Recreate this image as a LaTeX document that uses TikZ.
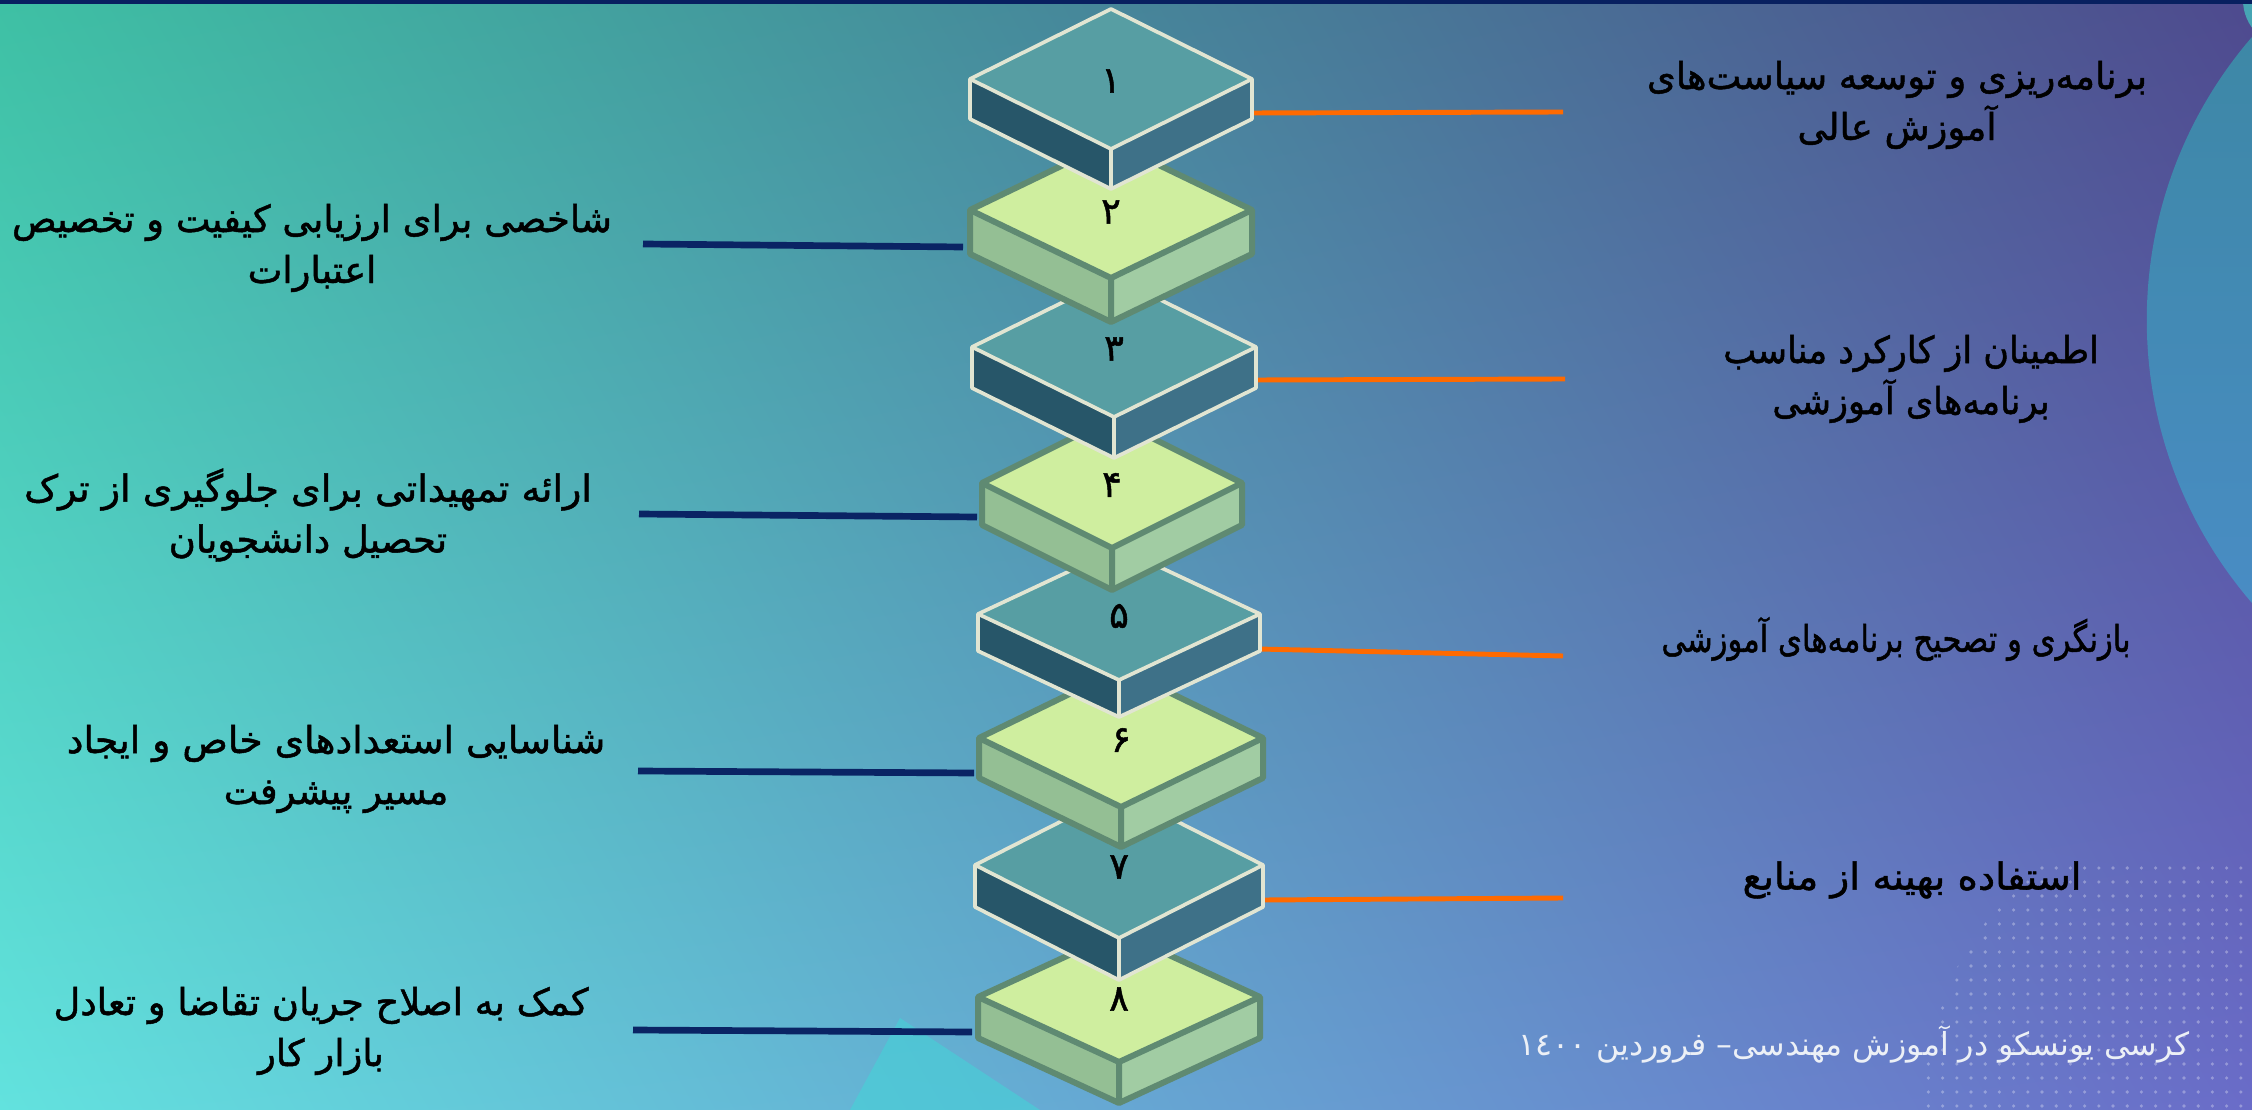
\documentclass[tikz,border=0pt]{standalone}
\usepackage{fontspec}
\usepackage{graphicx}
\usetikzlibrary{shadings}
\newfontfamily\arabicfont[Script=Arabic]{DejaVu Sans}
\newfontfamily\arabicheavy[Script=Arabic,FakeBold=1.3]{DejaVu Sans}
\TeXXeTstate=1
\definecolor{tealtop}{RGB}{87,158,163}
\definecolor{tealleft}{RGB}{39,86,105}
\definecolor{tealright}{RGB}{62,113,136}
\definecolor{tealline}{RGB}{225,229,210}
\definecolor{greentop}{RGB}{207,238,159}
\definecolor{greenleft}{RGB}{148,191,148}
\definecolor{greenright}{RGB}{161,204,163}
\definecolor{greenline}{RGB}{95,138,114}
\definecolor{orangeline}{RGB}{255,106,0}
\definecolor{navyline}{RGB}{10,36,100}
\definecolor{topbar}{RGB}{8,32,96}
\definecolor{bgUL}{RGB}{62,192,164}
\definecolor{bgUR}{RGB}{78,74,142}
\definecolor{bgLL}{RGB}{98,226,222}
\definecolor{bgLR}{RGB}{106,108,200}
\definecolor{circtop}{RGB}{58,134,158}
\definecolor{circbot}{RGB}{76,142,204}
\definecolor{footcol}{RGB}{236,240,246}
\definecolor{cornercirc}{RGB}{70,165,180}
\definecolor{wedgecol}{RGB}{66,214,216}
\tikzset{
  tealbox/.style={draw=tealline, line width=1.05pt, line join=round},
  greenbox/.style={draw=greenline, line width=1.7pt, line join=round},
  numlabel/.style={font=\arabicheavy\fontsize{10.5}{12}\selectfont, inner sep=0pt, text=black},
  txtlabel/.style={font=\arabicheavy\fontsize{10.5}{14.5}\selectfont, align=center, inner sep=0pt, text=black},
  orangeconn/.style={draw=orangeline, line width=1.4pt},
  navyconn/.style={draw=navyline, line width=1.9pt},
}
% #1 name, #2 cx, #3 cy, #4 half width, #5 half height, #6 thickness, #7 kind, #8 number
\newcommand\drawisobox[8]{%
  \coordinate (#1) at (#2,#3);
  \fill[#7left] (#2-#4,#3) -- (#2,#3+#5) -- (#2,#3+#5+#6) -- (#2-#4,#3+#6) -- cycle;
  \fill[#7right] (#2+#4,#3) -- (#2,#3+#5) -- (#2,#3+#5+#6) -- (#2+#4,#3+#6) -- cycle;
  \fill[#7top] (#2,#3-#5) -- (#2+#4,#3) -- (#2,#3+#5) -- (#2-#4,#3) -- cycle;
  \draw[#7box] (#2,#3-#5) -- (#2+#4,#3) -- (#2+#4,#3+#6) -- (#2,#3+#5+#6) -- (#2-#4,#3+#6) -- (#2-#4,#3) -- cycle;
  \draw[#7box] (#2-#4,#3) -- (#2,#3+#5) -- (#2+#4,#3) (#2,#3+#5) -- (#2,#3+#5+#6);
  \node[numlabel] (#1-n) at (#2,#3+2) {#8};
}
\begin{document}
\begin{tikzpicture}[x=0.01cm,y=-0.01cm]
\useasboundingbox (0,0) rectangle (2252,1110);
\clip (0,0) rectangle (2252,1110);
% background
\shade[upper left=bgUL, upper right=bgUR, lower left=bgLL, lower right=bgLR] (0,0) rectangle (2252,1110);
\fill[wedgecol, opacity=0.55] (900,1018) -- (850,1110) -- (1040,1110) -- cycle;
% big circle at right
\shade[top color=circtop, bottom color=circbot] (2580,320) circle (4.33cm);
\fill[cornercirc] (2290,0) circle (0.47cm);
% dot pattern
\begin{scope}
  \clip (2250,1120) circle (3.3cm);
  \clip (1850,862) rectangle (2252,1110);
  \foreach \i in {0,...,25}{
    \foreach \j in {0,...,18}{
      \fill[white, opacity=0.3] (1900+14.2*\i, 868+14*\j) circle (0.018cm);
    }
  }
\end{scope}
% top bar
\fill[topbar] (0,0) rectangle (2252,4);
% connector coordinates
\coordinate (b1r) at (1253,113); \coordinate (e1) at (1563,112);
\coordinate (b3r) at (1256,380); \coordinate (e3) at (1565,379);
\coordinate (b5r) at (1258,649); \coordinate (e5) at (1563,656);
\coordinate (b7r) at (1263,900); \coordinate (e7) at (1563,898);
\coordinate (b2l) at (963,247); \coordinate (e2) at (643,244);
\coordinate (b4l) at (977,517); \coordinate (e4) at (639,514);
\coordinate (b6l) at (974,773); \coordinate (e6) at (638,771);
\coordinate (b8l) at (972,1032); \coordinate (e8) at (633,1030);
\draw[orangeconn] (b1r) -- (e1);
\draw[orangeconn] (b3r) -- (e3);
\draw[orangeconn] (b5r) -- (e5);
\draw[orangeconn] (b7r) -- (e7);
\draw[navyconn] (b2l) -- (e2);
\draw[navyconn] (b4l) -- (e4);
\draw[navyconn] (b6l) -- (e6);
\draw[navyconn] (b8l) -- (e8);
% boxes, bottom to top
\drawisobox{box8}{1119}{997}{141}{65}{41}{green}{۸}
\drawisobox{box7}{1119}{865}{144}{73}{42}{teal}{۷}
\drawisobox{box6}{1121}{738}{142}{69}{40}{green}{۶}
\drawisobox{box5}{1119}{614}{141}{66}{37}{teal}{۵}
\drawisobox{box4}{1112}{483}{130}{65}{42}{green}{۴}
\drawisobox{box3}{1114}{347}{142}{70}{41}{teal}{۳}
\drawisobox{box2}{1111}{210}{141}{68}{44}{green}{۲}
\drawisobox{box1}{1111}{79}{141}{70}{40}{teal}{۱}
% labels
\node[txtlabel] (t1) at (1897,105) {\beginR برنامه‌ریزی و توسعه سیاست‌های\endR\\\beginR آموزش عالی\endR};
\node[txtlabel] (t3) at (1911,379) {\scalebox{0.95}[1]{\beginR اطمینان از کارکرد مناسب\endR}\\\scalebox{0.95}[1]{\beginR برنامه‌های آموزشی\endR}};
\node[txtlabel] (t5) at (1896,639) {\scalebox{0.83}[1]{\beginR بازنگری و تصحیح برنامه‌های آموزشی\endR}};
\node[txtlabel] (t7) at (1912,880) {\scalebox{1.05}[1]{\beginR استفاده بهینه از منابع\endR}};
\node[txtlabel] (t2) at (312,248) {\beginR شاخصی برای ارزیابی کیفیت و تخصیص\endR\\\beginR اعتبارات\endR};
\node[txtlabel] (t4) at (308,515) {\scalebox{1.03}[1]{\beginR ارائه  تمهیداتی برای جلوگیری از ترک\endR}\\\beginR تحصیل دانشجویان\endR};
\node[txtlabel] (t6) at (336,769) {\scalebox{1.02}[1]{\beginR شناسایی استعدادهای خاص و ایجاد\endR}\\\beginR مسیر پیشرفت\endR};
\node[txtlabel] (t8) at (321,1031) {\beginR کمک به اصلاح جریان تقاضا و تعادل\endR\\\beginR بازار کار\endR};
\node[font=\arabicfont\fontsize{9}{12}\selectfont, text=footcol, inner sep=0pt] (foot) at (1854,1044) {\beginR کرسی یونسکو در آموزش مهندسی– فروردین \beginL ١٤٠٠\endL\endR};
\end{tikzpicture}
\end{document}
